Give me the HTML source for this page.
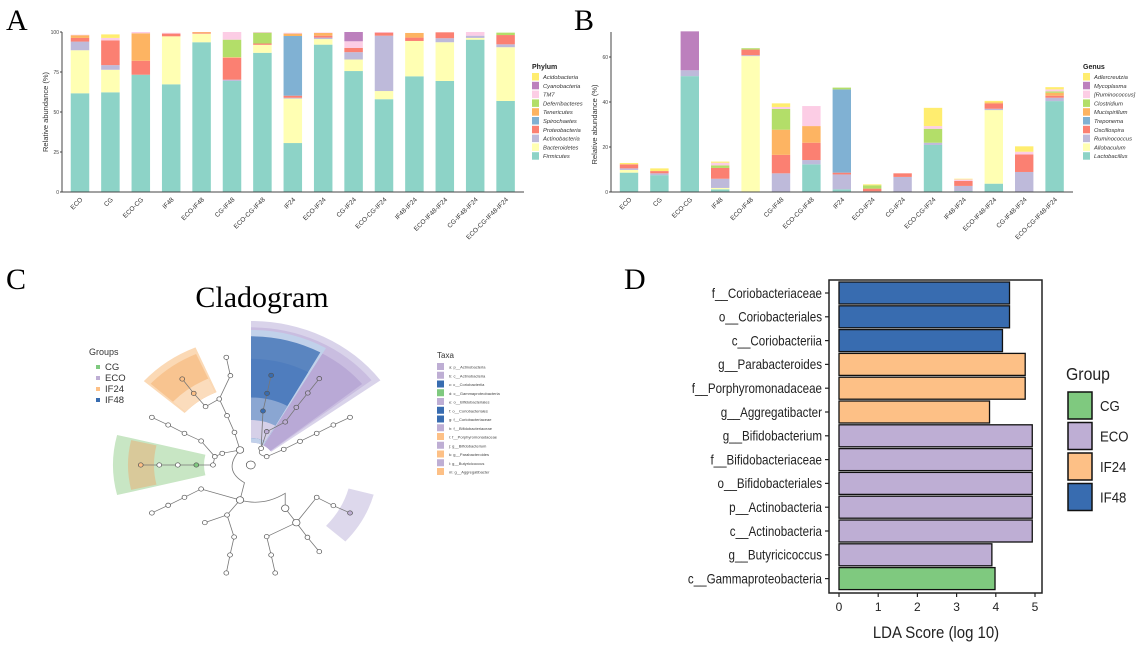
<!DOCTYPE html>
<html><head><meta charset="utf-8"><style>
body{margin:0;background:#fff;}
svg{display:block;font-family:"Liberation Sans",sans-serif;}
</style></head><body>
<svg id="fig" width="1146" height="645" viewBox="0 0 1146 645" xmlns="http://www.w3.org/2000/svg">
<text x="6" y="30" font-family="Liberation Serif,serif" font-size="30">A</text>
<text x="574" y="30" font-family="Liberation Serif,serif" font-size="30">B</text>
<text x="6" y="289" font-family="Liberation Serif,serif" font-size="30">C</text>
<text x="624" y="289" font-family="Liberation Serif,serif" font-size="30">D</text>
<g id="pa"></g>
<g id="pb"></g>
<g id="pc"></g>
<g id="pd"></g>
</svg>
<script>
const categories=["ECO","CG","ECO-CG","IF48","ECO-IF48","CG-IF48","ECO-CG-IF48","IF24","ECO-IF24","CG-IF24","ECO-CG-IF24","IF48-IF24","ECO-IF48-IF24","CG-IF48-IF24","ECO-CG-IF48-IF24"];
const phyla=["Firmicutes","Bacteroidetes","Actinobacteria","Proteobacteria","Spirochaetes","Tenericutes","Deferribacteres","TM7","Cyanobacteria","Acidobacteria"];
const phylumColors=["#8dd3c7","#ffffb3","#bebada","#fb8072","#80b1d3","#fdb462","#b3de69","#fccde5","#bc80bd","#ffed6f"];
const firmicutes=[61.7,62.3,73.3,67.3,93.6,69.4,87,30.6,92.1,75.6,58,72.3,69.4,95.2,56.9];
const bacteroidetes=[26.9,14.1,0,30,5.4,0,5,27.8,3.5,7.2,5.1,22.1,24.2,1.1,33.6];
const actinobacteria=[5.4,2.9,0,0,0,0.8,0,0.5,0.9,4.6,34.6,0,2.5,1.4,1.8];
const proteobacteria=[2.3,15.5,8.7,1.7,0.6,13.7,0.8,1.3,1.2,2.7,1.9,2.1,3.7,0,5.8];
const spirochaetes=[0,0,0,0,0,0,0,37.3,0,0,0,0,0,0,0];
const tenericutes=[1.7,0,17.2,0,0.4,0.4,0,1.5,1.7,0,0,2.9,0,0,0];
const deferribacteres=[0,0,0,0,0,10.9,6.8,0,0,0,0,0,0,0,1.5];
const tm7=[0.3,1.5,0.8,0.5,0,4.8,0.4,0.5,0.3,4.1,0.4,0,0,2.3,0];
const cyanobacteria=[0,0,0,0,0,0,0,0,0,5.8,0,0,0,0,0];
const acidobacteria=[0,2.2,0,0,0,0,0,0,0,0,0,0,0,0,0];
const phylumTicks=[0,25,50,75,100];
const genera=["Lactobacillus","Allobaculum","Ruminococcus","Oscillospira","Treponema","Mucispirillum","Clostridium","[Ruminococcus]","Mycoplasma","Adlercreutzia"];
const lactobacillus=[8.6,7.5,51.5,1.2,0,0.2,12.3,1.2,0.3,0.2,20.9,0.4,3.7,0,40.4];
const allobaculum=[1.2,0,0,0.6,60.4,0,0,0,0,0,0,0,32.7,0,0];
const ruminococcus=[0.7,0.8,2.6,4.1,0.4,8.1,1.9,6.6,0,6.5,1,2.3,0.6,8.9,1.5];
const oscillospira=[1.8,1,0,4.8,2.5,8.2,7.7,0.8,1.2,1.6,0,2.2,2.3,7.8,0.9];
const treponema=[0,0,0,0,0,0,0,37,0,0,0,0,0,0,0];
const mucispirillum=[0,0,0,0,0,11.2,7.4,0,0,0,0,0,0.5,0,1.3];
const clostridium=[0,0,0,1.1,0.6,9.2,0,0.8,1.5,0,6.2,0,0,0,0.6];
const rumBracket=[0,0,0,1.2,0,0.9,8.9,0,0,0,1.2,0.7,0,1.2,0.9];
const mycoplasma=[0,0,17.3,0,0,0,0,0,0,0,0,0,0,0,0];
const adlercreutzia=[0.6,1.2,0,0.5,0,1.6,0,0,0.4,0,8.1,0.3,0.7,2.4,1];
const genusTicks=[0,20,40,60];
const ldaTaxa=["f__Coriobacteriaceae","o__Coriobacteriales","c__Coriobacteriia","g__Parabacteroides","f__Porphyromonadaceae","g__Aggregatibacter","g__Bifidobacterium","f__Bifidobacteriaceae","o__Bifidobacteriales","p__Actinobacteria","c__Actinobacteria","g__Butyricicoccus","c__Gammaproteobacteria"];
const ldaScores=[4.35,4.35,4.17,4.75,4.75,3.84,4.93,4.93,4.93,4.93,4.93,3.9,3.98];
const ldaGroups=["IF48","IF48","IF48","IF24","IF24","IF24","ECO","ECO","ECO","ECO","ECO","ECO","CG"];
const ldaTicks=[0,1,2,3,4,5];
const groupNames=["CG","ECO","IF24","IF48"];
const groupColors={"CG":"#7fc97f","ECO":"#beaed4","IF24":"#fdc086","IF48":"#386cb0"};

const NS="http://www.w3.org/2000/svg";
function mk(tag,attrs,parent,txt){const e=document.createElementNS(NS,tag);for(const k in attrs)e.setAttribute(k,attrs[k]);if(txt!==undefined)e.textContent=txt;parent.appendChild(e);return e;}

function stacked(g,series,names,colors,cfg,ticks,legendTitle){
  const y=v=>cfg.y0-(v-0)*(cfg.y0-cfg.yTop)/cfg.vmax;
  const x=i=>cfg.x0+i*cfg.step;
  categories.forEach((c,i)=>{
    let acc=0;
    series.forEach((s,k)=>{
      const v=s[i]; if(v<=0)return;
      const r=mk('rect',{x:x(i)-cfg.bw/2,y:y(acc+v),width:cfg.bw,height:y(acc)-y(acc+v),fill:colors[k]},g);
      
      
      acc+=v;
    });
    const t=mk('text',{x:0,y:0,'font-size':6.5,fill:'#333','text-anchor':'end',transform:`translate(${x(i)+3},${cfg.y0+8}) rotate(-45)`},g,c);
    
    
  });
  mk('line',{x1:cfg.ax,y1:cfg.yAxTop,x2:cfg.ax,y2:cfg.y0,stroke:'#444','stroke-width':1},g);
  mk('line',{x1:cfg.ax,y1:cfg.y0,x2:cfg.axEnd,y2:cfg.y0,stroke:'#444','stroke-width':1},g);
  ticks.forEach(t=>{
    mk('line',{x1:cfg.ax-2,x2:cfg.ax,y1:y(t),y2:y(t),stroke:'#444'},g);
    const tl=mk('text',{x:cfg.ax-3,y:y(t)+2,'font-size':5,'text-anchor':'end',fill:'#444'},g,t);
    
    
  });
  const yt=mk('text',{x:0,y:0,'font-size':7.5,'text-anchor':'middle',fill:'#333',transform:`translate(${cfg.ax-14},${(cfg.y0+cfg.yTop)/2}) rotate(-90)`},g,'Relative abundance (%)');
  
  
  const lt=mk('text',{x:cfg.lx,y:69,'font-size':7,'font-weight':'bold',fill:'#222'},g,legendTitle);
  
  
  for(let k=names.length-1,j=0;k>=0;k--,j++){
    const yy=73+j*8.8;
    const sw=mk('rect',{x:cfg.lx,y:yy,width:7,height:7.5,fill:colors[k]},g);
    
    
    const tx=mk('text',{x:cfg.lx+11,y:yy+6,'font-size':5.8,'font-style':'italic',fill:'#333'},g,names[k]);
    
    
  }
}
stacked(document.getElementById('pa'),[firmicutes,bacteroidetes,actinobacteria,proteobacteria,spirochaetes,tenericutes,deferribacteres,tm7,cyanobacteria,acidobacteria],phyla,phylumColors,
 {x0:80,step:30.4,bw:18.5,y0:192,yTop:32,vmax:100,ax:62,axEnd:524,yAxTop:32,lx:532},phylumTicks,'Phylum');
stacked(document.getElementById('pb'),[lactobacillus,allobaculum,ruminococcus,oscillospira,treponema,mucispirillum,clostridium,rumBracket,mycoplasma,adlercreutzia],genera,phylumColors,
 {x0:629,step:30.4,bw:18.4,y0:192,yTop:57,vmax:60,ax:611,axEnd:1073,yAxTop:32,lx:1083},genusTicks,'Genus');

(function(){
  const g=document.getElementById('pc');
  const tt=mk('text',{x:262,y:307,'font-family':'Liberation Serif,serif','font-size':30,'text-anchor':'middle'},g,'Cladogram');
  
  
  const cx=251,cy=465,sx=1,sy=2.7/3;
  const inner=mk('g',{transform:`translate(${cx},${cy}) scale(${sx},${sy})`},g);
  function wedge(a1,a2,r1,r2,fill,op){
    const p=(a,r)=>[r*Math.cos(a*Math.PI/180),r*Math.sin(a*Math.PI/180)];
    const [x1,y1]=p(a1,r2),[x2,y2]=p(a2,r2),[x3,y3]=p(a2,r1),[x4,y4]=p(a1,r1);
    const large=(a2-a1)>180?1:0;
    const w=mk('path',{d:`M${x1},${y1} A${r2},${r2} 0 ${large} 1 ${x2},${y2} L${x3},${y3} A${r1},${r1} 0 ${large} 0 ${x4},${y4}Z`,fill:fill,'fill-opacity':op},inner);
    
    
  }
  wedge(-90,-36,25,160,'#d9d3ea',1);
  wedge(-90,-38,25,153,'#c9bde0',1);
  wedge(-90,-39,25,143,'#b9a9d6',1);
  wedge(-90,-60,25,150,'#c1d1ea',1);
  wedge(-90,-61,30,143,'#5a85c0',1);
  wedge(-90,-61,30,118,'#4f7dbe',1);
  wedge(-90,-61,30,75,'#8aa6d2',1);
  wedge(-90,-61,30,50,'#d6d0e8',1);
  wedge(-139,-113,88,142,'#fbd9b5',1);
  wedge(-138,-114,88,135,'#f8c490',1);
  wedge(-138,-114,88,105,'#fbdcbc',1);
  wedge(166,194,47,138,'#c8e6c4',1);
  wedge(167,193,97,123,'#d9c99a',1);
  wedge(15,42,101,127,'#ddd8ec',1);
  const tg=mk('g',{transform:'translate(0,290) scale(0.3704,0.3333)'},g);
  const edges=[
   [[648,480],[600,490],[580,500],[543,453],[498,430],[454,405],[410,382]],
   [[580,500],[575,525],[530,525],[480,525],[430,525],[380,525]],
   [[648,480],[633,427],[613,377],[592,327],[622,257],[611,202]],
   [[592,327],[555,350],[523,310],[492,267]],
   [[705,475],[710,363],[721,310],[732,256]],
   [[720,425],[770,396],[800,352],[831,309],[862,266]],
   [[720,500],[766,478],[810,454],[855,430],[900,405],[945,382]],
   [[648,630],[543,597],[498,622],[454,646],[410,669]],
   [[648,630],[613,675],[553,698]],
   [[613,675],[632,741],[621,795],[611,849]],
   [[770,655],[800,698],[720,740],[732,795],[743,849]],
   [[800,698],[830,742],[862,785]],
   [[800,698],[855,622],[900,647],[945,669]]
  ];
  mk('path',{d:'M648,480 Q600,540 660,578 L648,630 Q710,650 770,610 L770,655 M705,475 Q690,495 720,500 M720,425 L705,475',fill:'none',stroke:'#777','stroke-width':2.2},tg);
  edges.forEach(e=>{mk('polyline',{points:e.map(p=>p.join(',')).join(' '),fill:'none',stroke:'#777','stroke-width':2.2},tg);});
  const colored={"732,256":"IF48","721,310":"IF48","710,363":"IF48","720,425":"ECO","770,396":"ECO","800,352":"ECO","831,309":"ECO","862,266":"ECO","945,669":"ECO","492,267":"IF24","523,310":"IF24","380,525":"IF24","530,525":"CG"};
  const seen={};
  edges.flat().concat([[648,480],[648,630],[770,655],[705,475],[720,425]]).forEach(p=>{
    const k=p.join(','); if(seen[k])return; seen[k]=1;
    const big=(k==='648,480'||k==='648,630'||k==='770,655'||k==='800,698');
    const c=mk('circle',{cx:p[0],cy:p[1],r:big?10:6.5,fill:colored[k]?groupColors[colored[k]]:'#fff',stroke:'#555','stroke-width':2},tg);
    
    
  });
  const root=mk('circle',{cx:677,cy:525,r:12,fill:'#fff',stroke:'#555','stroke-width':2},tg);
  
  
  const gl=mk('text',{x:89,y:355,'font-size':9,fill:'#333'},g,'Groups');
  
  
  groupNames.forEach((n,i)=>{
    const yy=365+i*11;
    mk('rect',{x:96,y:yy,width:4,height:4,fill:groupColors[n]},g);
    const t=mk('text',{x:105,y:yy+5,'font-size':9.5,fill:'#333'},g,n);
    
    
  });
  const taxa=["a: p__Actinobacteria","b: c__Actinobacteria","c: c__Coriobacteriia","d: c__Gammaproteobacteria","e: o__Bifidobacteriales","f: o__Coriobacteriales","g: f__Coriobacteriaceae","h: f__Bifidobacteriaceae","i: f__Porphyromonadaceae","j: g__Bifidobacterium","k: g__Parabacteroides","l: g__Butyricicoccus","m: g__Aggregatibacter"];
  const taxaG=["ECO","ECO","IF48","CG","ECO","IF48","IF48","ECO","IF24","ECO","IF24","ECO","IF24"];
  const tl=mk('text',{x:437,y:358,'font-size':8,fill:'#333'},g,'Taxa');
  
  
  taxa.forEach((n,i)=>{
    const yy=363+i*8.75;
    mk('rect',{x:437,y:yy,width:7,height:7,fill:groupColors[taxaG[i]]},g);
    const t=mk('text',{x:449,y:yy+5.5,'font-size':4,fill:'#444'},g,n);
    
    
  });
})();

(function(){
  const g=document.getElementById('pd');
  const x=v=>839+v*39.2;
  const yc=i=>293+i*23.8;
  const NF='Liberation Sans Narrow,Liberation Sans,sans-serif';
  mk('rect',{x:829,y:280,width:213,height:313,fill:'none',stroke:'#222','stroke-width':1.5},g);
  ldaTaxa.forEach((n,i)=>{
    const b=mk('rect',{x:x(0),y:yc(i)-11,width:x(ldaScores[i])-x(0),height:22,fill:groupColors[ldaGroups[i]],stroke:'#111','stroke-width':1.3},g);
    
    
    mk('line',{x1:825,x2:829,y1:yc(i),y2:yc(i),stroke:'#222','stroke-width':1.2},g);
    const t=mk('text',{x:0,y:0,'font-size':13.5,'text-anchor':'end',fill:'#222','font-family':NF,transform:`translate(822,${yc(i)+4.8}) scale(0.86,1)`},g,n);
    
    
  });
  ldaTicks.forEach(v=>{
    mk('line',{x1:x(v),x2:x(v),y1:593,y2:597,stroke:'#222','stroke-width':1.2},g);
    const t=mk('text',{x:x(v),y:611,'font-size':12,'text-anchor':'middle',fill:'#222'},g,v);
    
    
  });
  const xt=mk('text',{x:0,y:0,'font-size':17,'text-anchor':'middle',fill:'#222','font-family':NF,transform:'translate(936,638) scale(0.88,1)'},g,'LDA Score (log 10)');
  
  
  const lt=mk('text',{x:0,y:0,'font-size':18,fill:'#222','font-family':NF,transform:'translate(1066,380) scale(0.88,1)'},g,'Group');
  
  
  groupNames.forEach((n,i)=>{
    const yy=392+i*30.5;
    const r=mk('rect',{x:1068,y:yy,width:24,height:27,fill:groupColors[n],stroke:'#111','stroke-width':1.5},g);
    
    
    const t=mk('text',{x:0,y:0,'font-size':15,fill:'#222','font-family':NF,transform:`translate(1100,${yy+19}) scale(0.88,1)`},g,n);
    
    
  });
})();
</script>
</body></html>
